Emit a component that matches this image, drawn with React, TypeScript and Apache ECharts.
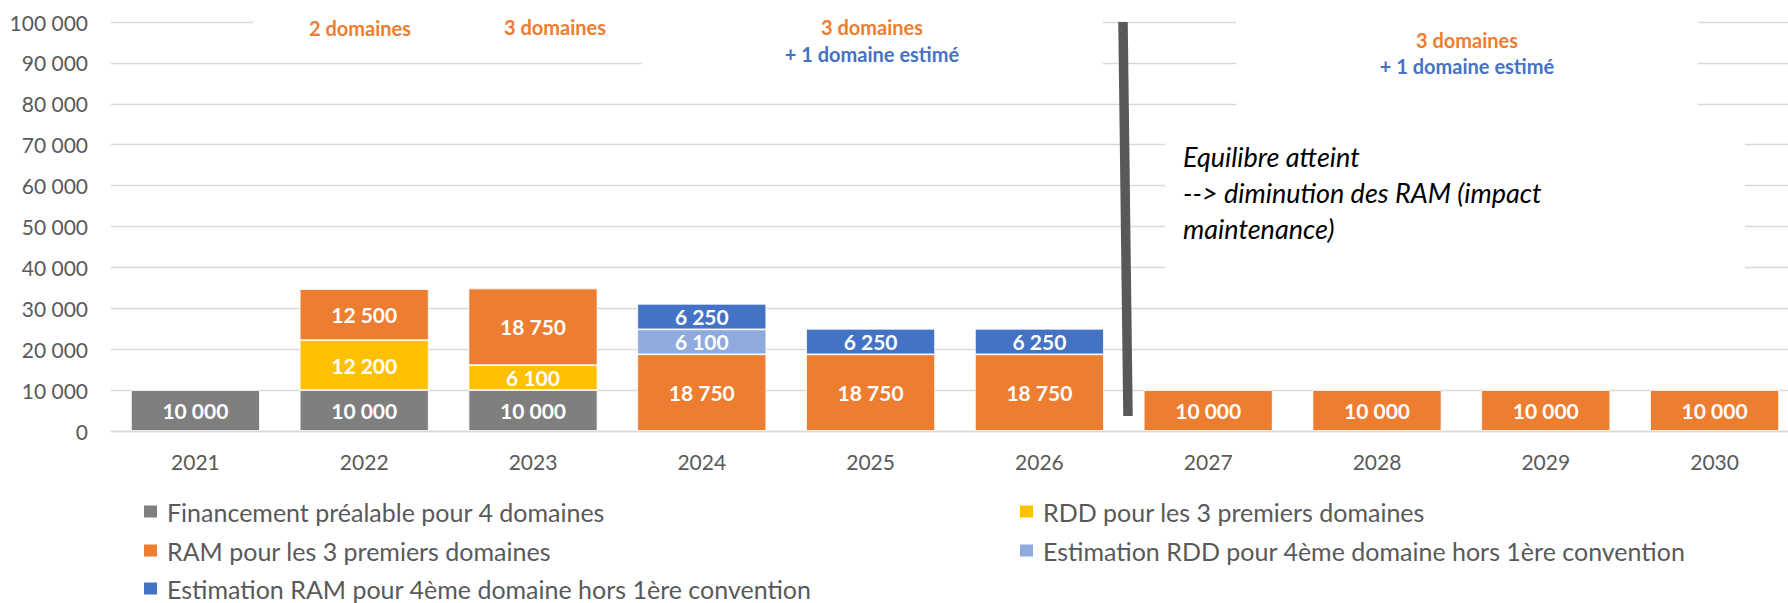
import React, { useEffect, useRef } from "react";
import * as echarts from "echarts";

const years = ["2021", "2022", "2023", "2024", "2025", "2026", "2027", "2028", "2029", "2030"];
const financement = [10000, 10000, 10000, null, null, null, null, null, null, null];
const rdd = [null, 12200, 6100, null, null, null, null, null, null, null];
const ram = [null, 12500, 18750, 18750, 18750, 18750, 10000, 10000, 10000, 10000];
const estRdd = [null, null, null, 6100, null, null, null, null, null, null];
const estRam = [null, null, null, 6250, 6250, 6250, null, null, null, null];

const seriesNames = [
  "Financement préalable pour 4 domaines",
  "RDD pour les 3 premiers domaines",
  "RAM pour les 3 premiers domaines",
  "Estimation RDD pour 4ème domaine hors 1ère convention",
  "Estimation RAM pour 4ème domaine hors 1ère convention",
];
const seriesColors = ["#7F7F7F", "#FFC000", "#ED7D31", "#8FAADC", "#4472C4"];
const seriesData = [financement, rdd, ram, estRdd, estRam];

const yMin = 0;
const yMax = 100000;
const yInterval = 10000;

const fmt = (n: number) => String(n).replace(/\B(?=(\d{3})+(?!\d))/g, " ");

const FONT = "Lato, 'Noto Sans', sans-serif";

export default function App() {
  const ref = useRef<HTMLDivElement>(null);
  useEffect(() => {
    if (!ref.current) return;
    const chart = echarts.init(ref.current, undefined, { renderer: "svg" });

    const legendPos = [
      { left: 142, top: 499 },
      { left: 1018, top: 499 },
      { left: 142, top: 538 },
      { left: 1018, top: 538 },
      { left: 142, top: 576 },
    ];

    const txt = (text: string, x: number, y: number, color: string, font: string, align = "center", lineHeight?: number) => ({
      type: "text",
      x,
      y,
      z: 20,
      silent: true,
      style: {
        text,
        fill: color,
        font,
        align,
        verticalAlign: "middle",
        lineHeight,
      },
    });
    const box = (x: number, y: number, w: number, h: number) => ({
      type: "rect",
      z: 10,
      silent: true,
      shape: { x, y, width: w, height: h },
      style: { fill: "#ffffff" },
    });

    chart.setOption({
      animation: false,
      textStyle: { fontFamily: FONT },
      grid: { left: 111, right: 1, top: 22, bottom: 172, containLabel: false },
      legend: seriesNames.map((name, i) => ({
        data: [name],
        left: legendPos[i].left,
        top: legendPos[i].top,
        padding: 0,
        icon: "rect",
        itemWidth: 15,
        itemHeight: 14,
        selectedMode: false,
        textStyle: { fontSize: 25, color: "#595959", fontFamily: FONT, lineHeight: 22, padding: [0, 0, 0, 4] },
      })),
      xAxis: {
        type: "category",
        data: years,
        axisLine: { lineStyle: { color: "#D9D9D9", width: 1.3 } },
        axisTick: { show: false },
        axisLabel: { color: "#595959", fontSize: 21, fontFamily: FONT, margin: 20 },
      },
      yAxis: {
        type: "value",
        min: yMin,
        max: yMax,
        interval: yInterval,
        axisLine: { show: false },
        axisTick: { show: false },
        splitLine: { lineStyle: { color: "#D9D9D9", width: 1.3 } },
        axisLabel: { color: "#595959", fontSize: 21, fontFamily: FONT, margin: 23, formatter: (v: number) => fmt(v) },
      },
      series: seriesNames.map((name, i) => ({
        name,
        type: "bar",
        stack: "total",
        barWidth: 129,
        data: seriesData[i],
        itemStyle: { color: seriesColors[i], borderColor: "#ffffff", borderWidth: 0.8 },
        label: {
          show: true,
          position: "inside",
          color: "#ffffff",
          fontWeight: "bold",
          fontSize: 21,
          fontFamily: FONT,
          formatter: (p: any) => fmt(p.value),
        },
      })),
      graphic: [
        box(253, 0, 389, 42),
        box(642, 0, 461, 84),
        box(1236, 0, 462, 122),
        box(1165, 124, 580, 162),
        txt("2 domaines", 360, 28, "#ED7D31", `bold 20px ${FONT}`),
        txt("3 domaines", 555, 27, "#ED7D31", `bold 20px ${FONT}`),
        txt("3 domaines", 872, 27, "#ED7D31", `bold 20px ${FONT}`),
        txt("+ 1 domaine estimé", 872, 54, "#4472C4", `bold 20px ${FONT}`),
        txt("3 domaines", 1467, 40, "#ED7D31", `bold 20px ${FONT}`),
        txt("+ 1 domaine estimé", 1467, 66, "#4472C4", `bold 20px ${FONT}`),
        txt("Equilibre atteint\n--> diminution des RAM (impact\nmaintenance)", 1183, 192, "#000000", `italic 27px ${FONT}`, "left", 36),
        {
          type: "line",
          z: 30,
          silent: true,
          shape: { x1: 1123, y1: 22, x2: 1128, y2: 416 },
          style: { stroke: "#595959", lineWidth: 9.5 },
        },
      ],
    });
    return () => chart.dispose();
  }, []);

  return (
    <div style={{ position: "fixed", left: 0, top: 0, width: 1788, height: 603, overflow: "hidden", background: "#fff" }}>
      <div ref={ref} style={{ width: 1800, height: 603 }} />
    </div>
  );
}
